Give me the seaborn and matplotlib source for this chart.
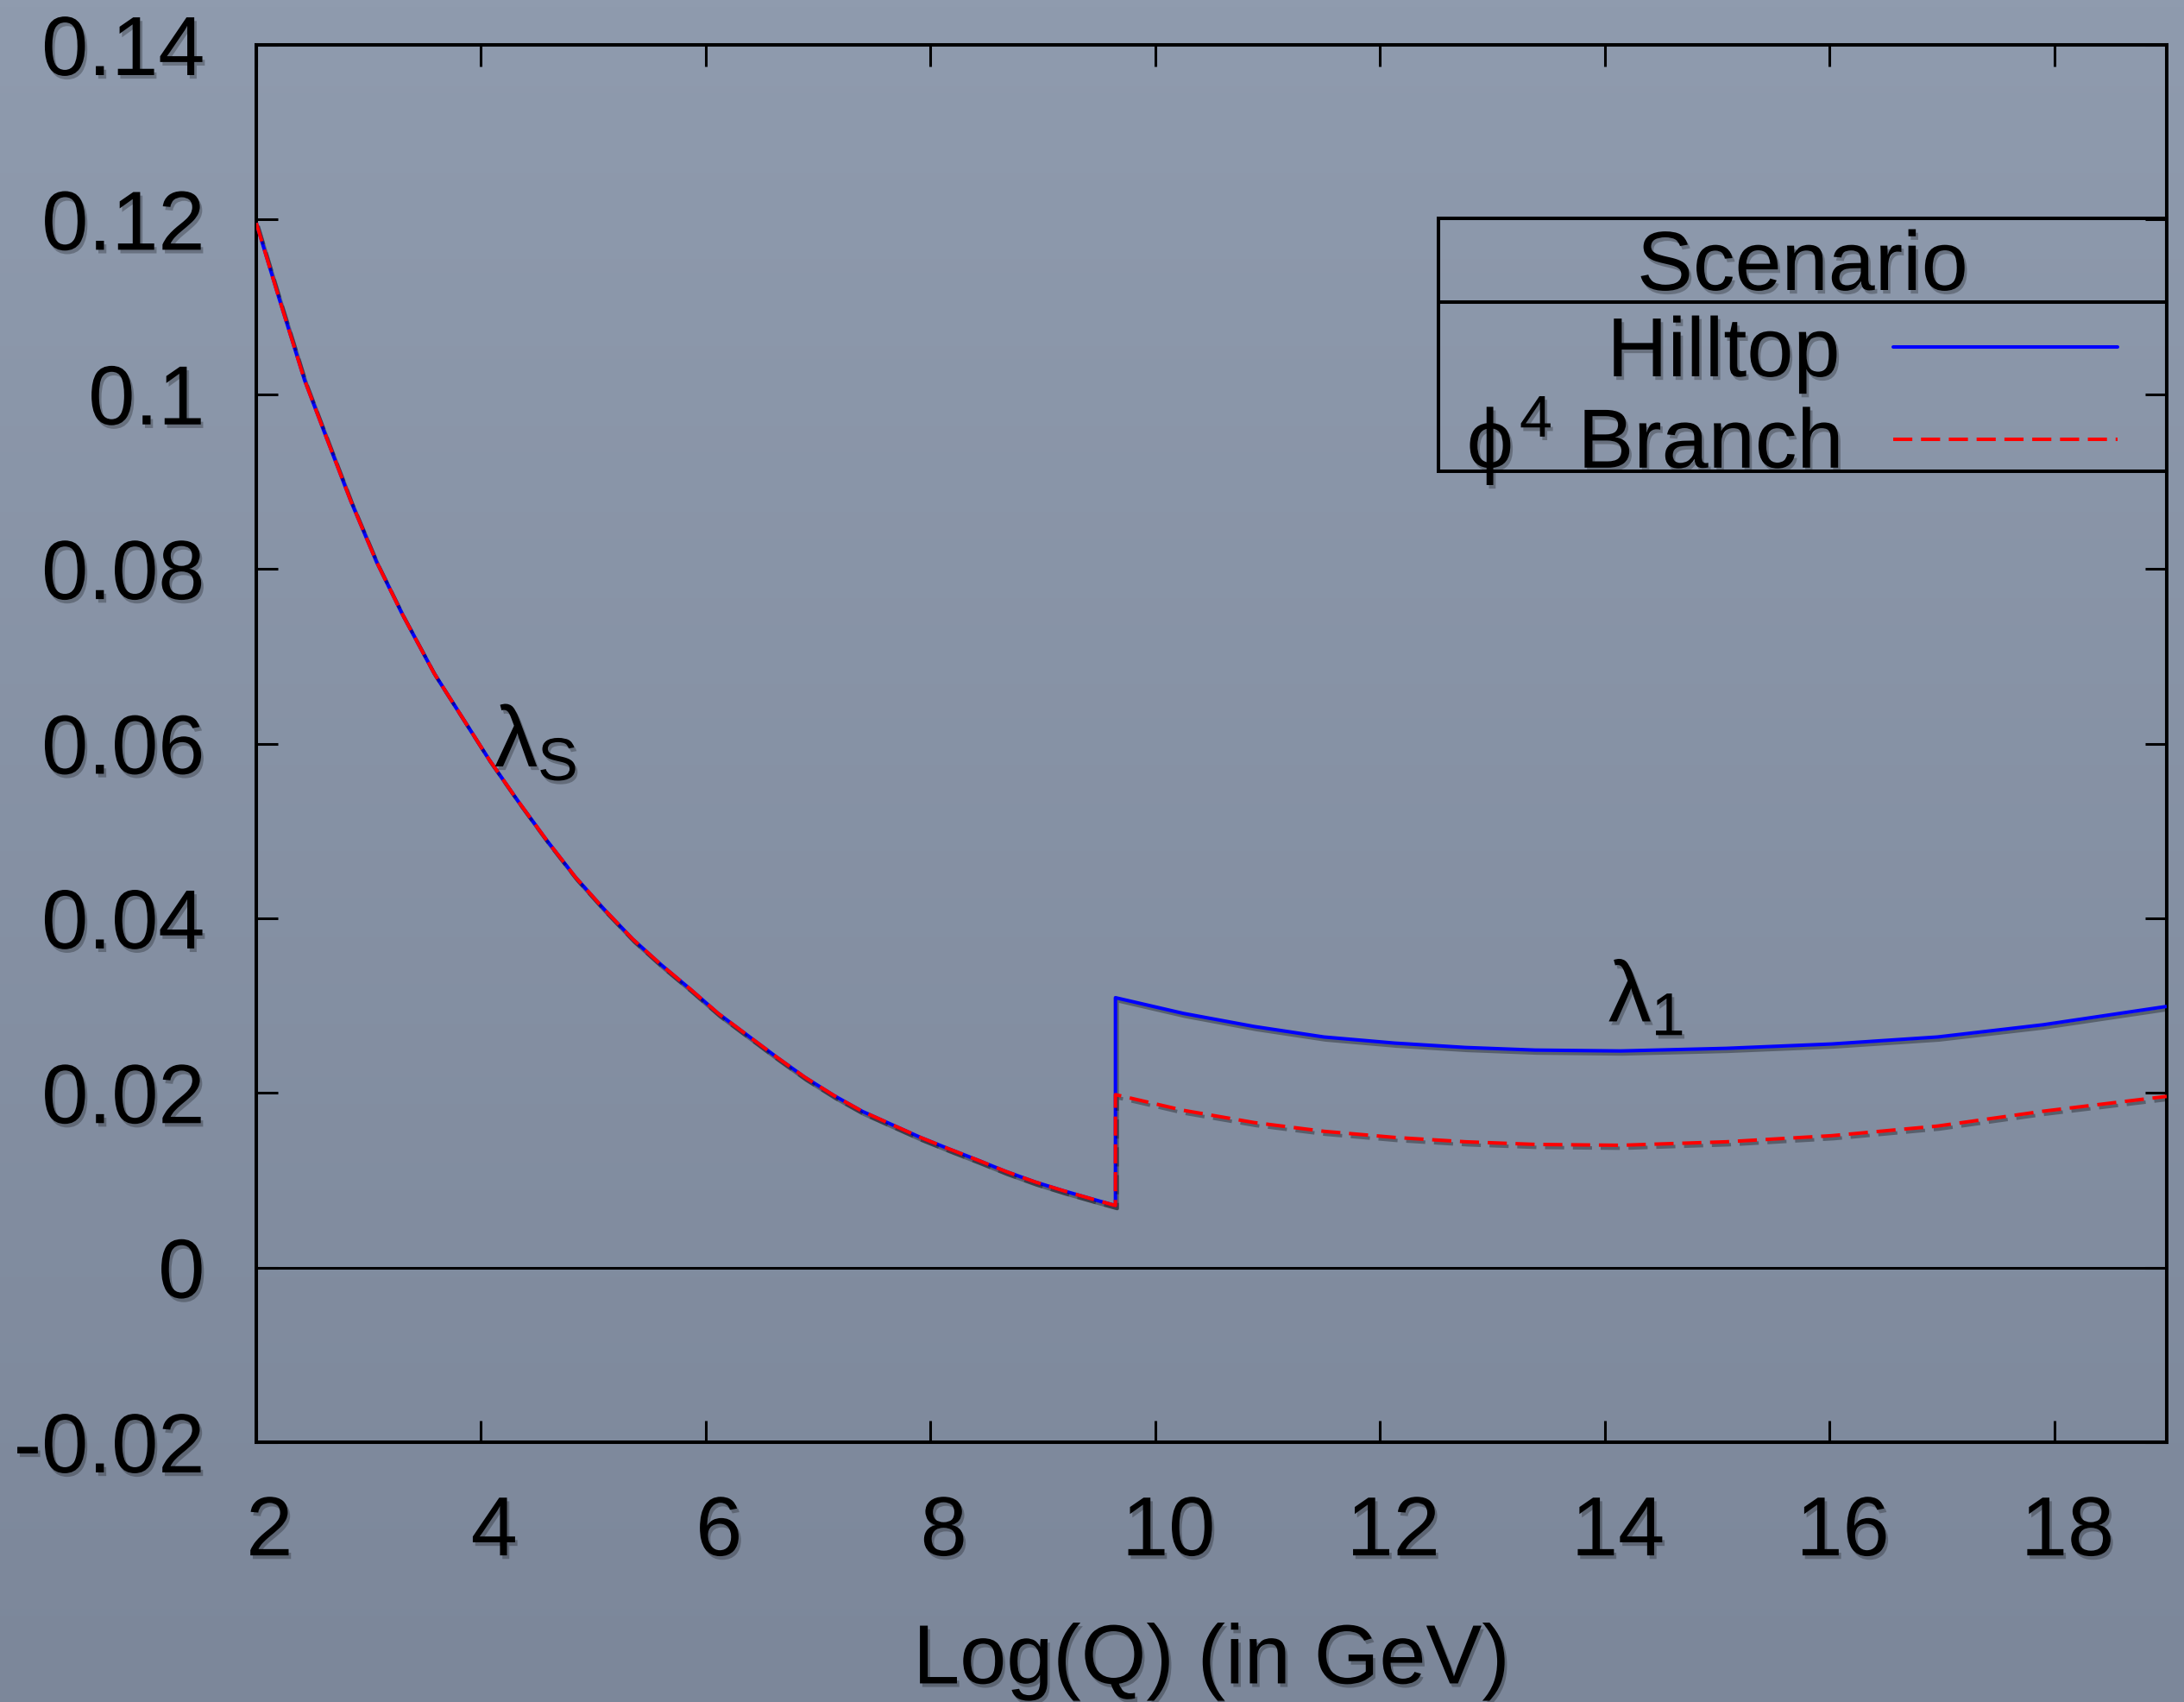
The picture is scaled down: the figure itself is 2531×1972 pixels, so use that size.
import numpy as np
import pandas as pd
import matplotlib
matplotlib.use("Agg")
import matplotlib.pyplot as plt
import matplotlib.patheffects as pe
import matplotlib.transforms as mtransforms
from matplotlib.patches import Rectangle
from matplotlib.lines import Line2D
import seaborn as sns

# ---------------- data ----------------
lambda_s_x = [2.00, 2.20, 2.43, 2.64, 2.84, 3.07, 3.30, 3.58, 4.07, 4.33, 4.58, 4.84,
              5.09, 5.35, 5.60, 5.86, 6.11, 6.63, 6.88, 7.14, 7.39, 7.65, 7.91, 8.16,
              8.42, 8.67, 8.93, 9.18, 9.45, 9.645]
lambda_s_y = [0.1196, 0.1111, 0.1016, 0.0945, 0.0878, 0.0808, 0.0748, 0.0681, 0.0582,
              0.0534, 0.0490, 0.0447, 0.0411, 0.0376, 0.0347, 0.0319, 0.0291, 0.0241,
              0.0218, 0.0197, 0.0179, 0.0164, 0.0149, 0.0136, 0.0123, 0.0110, 0.0098,
              0.0088, 0.0078, 0.0071]

lambda_1_x = [9.645, 10.25, 10.88, 11.50, 12.13, 12.76, 13.38, 14.14, 15.08, 16.02,
              16.96, 17.90, 19.00]
hilltop_y = [0.0309, 0.0291, 0.0276, 0.0264, 0.0257, 0.0252, 0.0249, 0.0248, 0.0251,
             0.0256, 0.0264, 0.0278, 0.0299]
phi4_y = [0.0198, 0.0180, 0.0166, 0.0156, 0.0149, 0.0144, 0.0141, 0.0140, 0.0144,
          0.0151, 0.0162, 0.0179, 0.0196]

scenarios = ["Hilltop", r"$\phi^{4}$ Branch"]
x_ticks = [2, 4, 6, 8, 10, 12, 14, 16, 18]
x_tick_labels = ["2", "4", "6", "8", "10", "12", "14", "16", "18"]
y_ticks = [-0.02, 0.0, 0.02, 0.04, 0.06, 0.08, 0.10, 0.12, 0.14]
y_tick_labels = ["-0.02", "0", "0.02", "0.04", "0.06", "0.08", "0.1", "0.12", "0.14"]
x_label = "Log(Q) (in GeV)"
legend_title = "Scenario"

# ---------------- build table ----------------
rows = []
for sc, tail in zip(scenarios, [hilltop_y, phi4_y]):
    xs = lambda_s_x + lambda_1_x
    ys = lambda_s_y + tail
    for i, (xv, yv) in enumerate(zip(xs, ys)):
        rows.append({"x": xv, "y": yv, "scenario": sc, "order": i})
df = pd.DataFrame(rows)

# ---------------- style ----------------
sns.set_style("ticks")
plt.rcParams['font.family'] = ['Liberation Sans', 'DejaVu Sans']
plt.rcParams['mathtext.fontset'] = 'custom'
plt.rcParams['mathtext.rm'] = 'Liberation Sans'
plt.rcParams['mathtext.it'] = 'Liberation Sans'
plt.rcParams['mathtext.sf'] = 'Liberation Sans'
plt.rcParams['mathtext.bf'] = 'Liberation Sans:bold'

W, H, DPI = 2531, 1972, 100
fig = plt.figure(figsize=(W / DPI, H / DPI), dpi=DPI)

# background gradient (slate blue-grey board)
bg = fig.add_axes([0, 0, 1, 1])
top_c = np.array([0x8f, 0x9b, 0xae]) / 255.0
bot_c = np.array([0x7c, 0x87, 0x9a]) / 255.0
t = np.linspace(0, 1, 256)[:, None]
grad = (top_c[None, :] * (1 - t) + bot_c[None, :] * t)[:, None, :]
bg.imshow(grad, aspect="auto", extent=[0, 1, 0, 1], origin="upper")
bg.set_axis_off()

L, R, T, B = 297, 2511, 52, 1671
ax = fig.add_axes([L / W, (H - B) / H, (R - L) / W, (B - T) / H])
ax.set_facecolor("none")

palette = {scenarios[0]: "#0000ff", scenarios[1]: "#ff0000"}
dash_map = {scenarios[0]: "", scenarios[1]: (5.5, 2.5)}
LW = 2.9

ax.axhline(0, color="black", lw=2.2, zorder=1)

sns.lineplot(data=df, x="x", y="y", hue="scenario", style="scenario",
             hue_order=scenarios, style_order=scenarios,
             palette=palette, dashes=dash_map, estimator=None, sort=False,
             units="scenario", linewidth=LW, legend=False, ax=ax)

line_shadow = [pe.SimpleLineShadow(offset=(1.5, -2.5), shadow_color="k", alpha=0.32), pe.Normal()]
for ln in ax.lines[1:]:
    ln.set_path_effects(line_shadow)
    ln.set_solid_capstyle("butt")
    ln.set_solid_joinstyle("round")
    ln.set_zorder(3)

ax.set_xlim(2, 19)
ax.set_ylim(-0.02, 0.14)
ax.set_xticks(x_ticks)
ax.set_xticklabels(x_tick_labels)
ax.set_yticks(y_ticks)
ax.set_yticklabels(y_tick_labels)
ax.tick_params(axis="both", direction="in", length=18, width=2.2, color="black",
               top=True, right=True, labelsize=70, labelcolor="black")
ax.tick_params(axis="x", pad=44)
ax.tick_params(axis="y", pad=43)
for s in ax.spines.values():
    s.set_visible(True)
    s.set_linewidth(2.9)
    s.set_color("black")

ax.set_xlabel(x_label, fontsize=70, labelpad=42, color="black")
ax.set_ylabel("")

txt_shadow = [pe.withSimplePatchShadow(offset=(2, -3), shadow_rgbFace="k", alpha=0.25)]

offset = mtransforms.ScaledTranslation(11 / 72, 0, fig.dpi_scale_trans)
for lab in ax.get_xticklabels():
    lab.set_transform(lab.get_transform() + offset)
    lab.set_path_effects(txt_shadow)
for lab in ax.get_yticklabels():
    lab.set_path_effects(txt_shadow)
ax.xaxis.label.set_path_effects(txt_shadow)

# curve annotations
ax.text(4.12, 0.0599, r"$\lambda_{\mathrm{S}}$", fontsize=72, ha="left", va="center",
        color="black", path_effects=txt_shadow)
ax.text(14.03, 0.0307, r"$\lambda_{1}$", fontsize=72, ha="left", va="center",
        color="black", path_effects=txt_shadow)

# legend (gnuplot-like key box with title)
def axx(X):
    return (X - L) / (R - L)

def axy(Y):
    return (B - Y) / (B - T)

box = Rectangle((axx(1667), axy(545.5)), 1.0 - axx(1667), axy(253) - axy(545.5),
                transform=ax.transAxes, fill=False, edgecolor="black", lw=2.9,
                clip_on=False, zorder=5)
ax.add_patch(box)
sep = Line2D([axx(1667), 1.0], [axy(350), axy(350)], transform=ax.transAxes,
             color="black", lw=2.9, clip_on=False, zorder=5)
ax.add_line(sep)
ax.text(axx(2089), axy(311), legend_title, transform=ax.transAxes, fontsize=70,
        ha="center", va="center", color="black", path_effects=txt_shadow)

handles = [Line2D([], [], color=palette[scenarios[0]], lw=LW),
           Line2D([], [], color=palette[scenarios[1]], lw=LW, dashes=(5.5, 2.5))]
leg = ax.legend(handles, scenarios, loc="upper right",
                bbox_to_anchor=(axx(2454), axy(366)), bbox_transform=ax.transAxes,
                frameon=False, markerfirst=False, fontsize=70, borderpad=0,
                borderaxespad=0, labelspacing=0.02, handlelength=2.67,
                handletextpad=0.64)
for tx in leg.get_texts():
    tx.set_path_effects(txt_shadow)
    tx.set_color("black")

fig.savefig("out.png", dpi=DPI)
